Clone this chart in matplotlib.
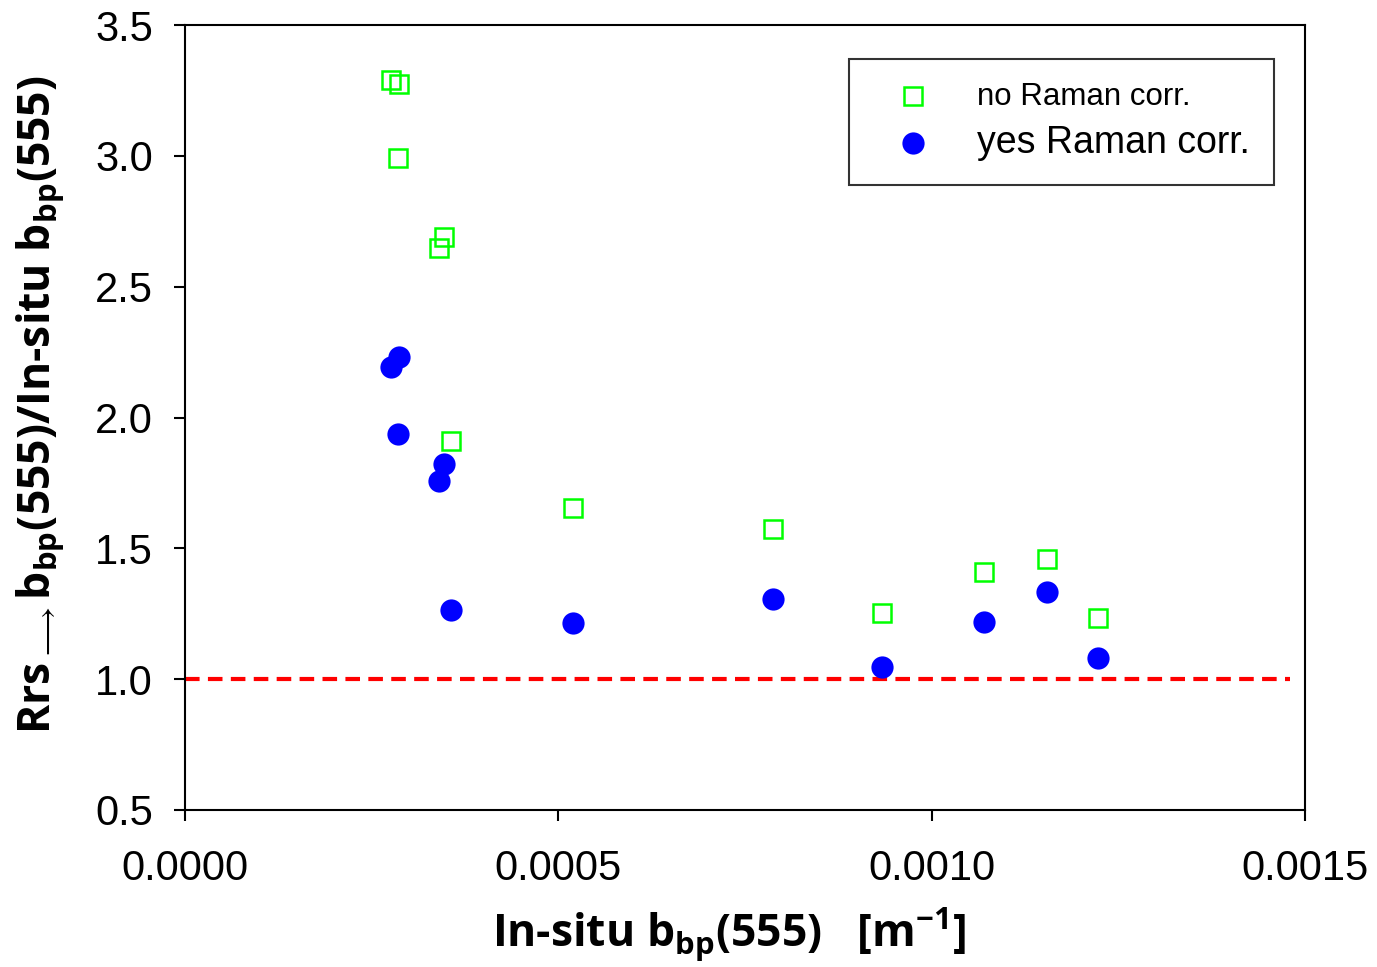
import matplotlib
matplotlib.use("Agg")
import matplotlib.pyplot as plt

plt.rcParams['font.family'] = ['Liberation Sans', 'DejaVu Sans']
plt.rcParams['mathtext.fontset'] = 'custom'
plt.rcParams['mathtext.rm'] = 'Open Sans:bold'
plt.rcParams['mathtext.it'] = 'Open Sans:bold'
plt.rcParams['mathtext.bf'] = 'Open Sans:bold'
plt.rcParams['mathtext.default'] = 'rm'

insitu_bbp = [0.000276, 0.000287, 0.000285, 0.000347, 0.000340, 0.000356,
              0.000520, 0.000787, 0.000933, 0.001070, 0.001154, 0.001223]
ratio_no_raman = [3.29, 3.275, 2.99, 2.69, 2.648, 1.91,
                  1.654, 1.574, 1.253, 1.41, 1.459, 1.234]
ratio_yes_raman = [2.193, 2.231, 1.937, 1.822, 1.757, 1.264,
                   1.215, 1.306, 1.047, 1.218, 1.333, 1.081]
ref_line_x = [0.0, 0.00148]
ref_line_y = [1.0, 1.0]

x_ticks = [0.0, 0.0005, 0.0010, 0.0015]
x_ticklabels = ['0.0000', '0.0005', '0.0010', '0.0015']
y_ticks = [0.5, 1.0, 1.5, 2.0, 2.5, 3.0, 3.5]

fig = plt.figure(figsize=(13.77, 9.67), dpi=100)
ax = fig.add_axes([0.1343, 0.1624, 0.8134, 0.8117])

ax.plot(ref_line_x, ref_line_y, color='#ff0000', lw=3, ls=(0, (3.5, 2)), zorder=1)
ax.plot(insitu_bbp, ratio_no_raman, ls='none', marker='s', ms=13,
        mfc='none', mec='#00ff00', mew=1.8, label='no Raman corr.', zorder=3)
ax.plot(insitu_bbp, ratio_yes_raman, ls='none', marker='o', ms=16,
        mfc='#0000ff', mec='#0000ff', mew=0, label='yes Raman corr.', zorder=4)

ax.set_xlim(0, 0.0015)
ax.set_ylim(0.5, 3.5)
ax.set_xticks(x_ticks)
ax.set_xticklabels(x_ticklabels)
ax.set_yticks(y_ticks)
ax.set_yticklabels([f'{v:.1f}' for v in y_ticks])
ax.tick_params(direction='out', length=8, width=1.5, labelsize=30)
ax.tick_params(axis='x', pad=20)
ax.tick_params(axis='y', pad=15)
for s in ax.spines.values():
    s.set_linewidth(1.5)

ax.set_xlabel(r'In-situ b$_{bp}$(555)   [m$^{-1}$]', fontfamily='Open Sans',
              fontweight='bold', fontsize=32, labelpad=12)
ax.xaxis.label.set_x(0.486)
ax.set_ylabel(r'Rrs$_{\longrightarrow}$b$_{bp}$(555)/In-situ b$_{bp}$(555)',
              fontfamily='Open Sans', fontweight='bold', fontsize=32, labelpad=21)
ax.yaxis.label.set_y(0.516)

leg = ax.legend(loc='upper right', bbox_to_anchor=(0.9723, 0.957), frameon=True,
                fancybox=False, edgecolor='black', prop={'size': 20},
                borderpad=0.85, handletextpad=0.83, labelspacing=0.45,
                borderaxespad=0, handlelength=2.95)
leg.get_frame().set_linewidth(1.5)
texts = leg.get_texts()
texts[0].set_fontsize(22.5)
texts[1].set_fontsize(27)

fig.savefig('out.png', dpi=100)
